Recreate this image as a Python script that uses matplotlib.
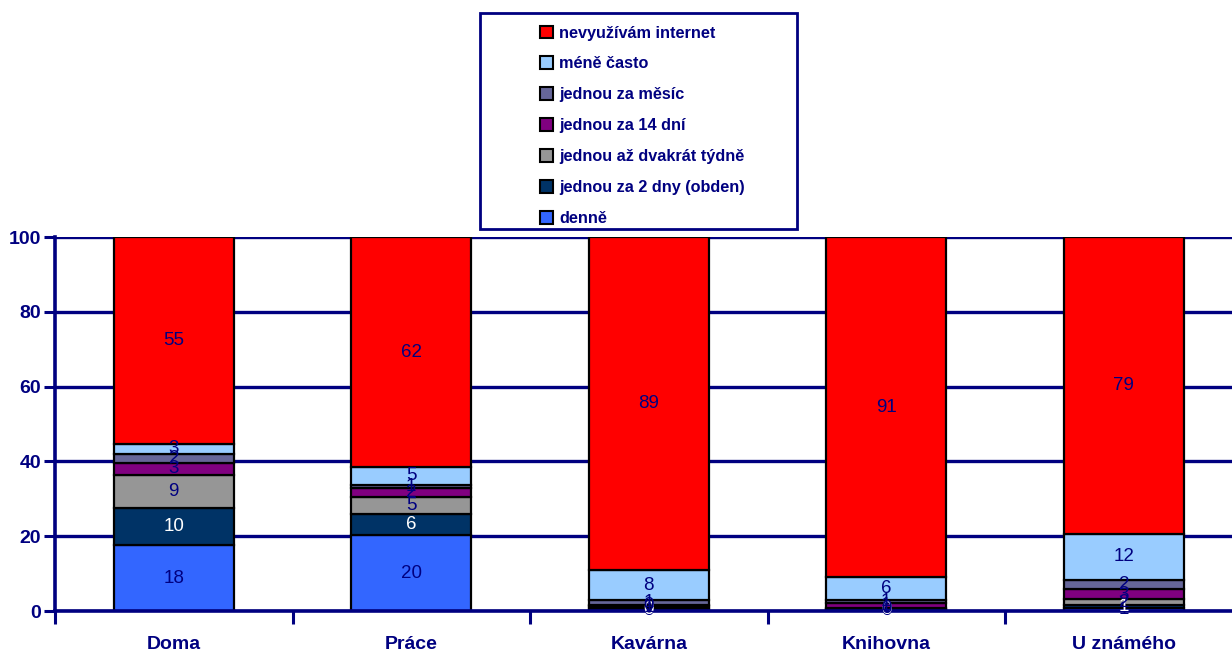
import matplotlib
matplotlib.use("Agg")
import matplotlib.pyplot as plt
from matplotlib.patches import Rectangle, Patch

# Stacked shares (%) of internet use frequency by place
places = ["Doma", "Práce", "Kavárna", "Knihovna", "U známého"]
series_names = [
    "denně",
    "jednou za 2 dny (obden)",
    "jednou až dvakrát týdně",
    "jednou za 14 dní",
    "jednou za měsíc",
    "méně často",
    "nevyužívám internet",
]
denne = [17.6, 20.3, 0.3, 0.2, 0.8]
obden = [9.9, 5.6, 0.4, 0.3, 0.7]
tydne = [8.8, 4.6, 0.6, 0.2, 1.6]
za14dni = [3.4, 2.4, 0.4, 1.4, 2.8]
za_mesic = [2.4, 0.9, 1.2, 0.8, 2.4]
mene_casto = [2.6, 4.6, 8.1, 6.1, 12.3]
nevyuzivam = [55.3, 61.6, 89.0, 91.0, 79.4]
y_ticks = [0, 20, 40, 60, 80, 100]

series = [denne, obden, tydne, za14dni, za_mesic, mene_casto, nevyuzivam]
colors = ["#3366FF", "#003366", "#969696", "#800080", "#666699", "#99CCFF", "#FF0000"]
label_colors = ["#000080", "white", "#000080", "#000080", "#000080", "#000080", "#000080"]

NAVY = "#000080"
FONT = ["Liberation Sans", "DejaVu Sans"]

W, H = 1232, 655
fig = plt.figure(figsize=(W / 100, H / 100), dpi=100)
ax = fig.add_axes([55 / W, (H - 611) / H, 1187.5 / W, (611 - 237) / H])

x = list(range(len(places)))
bottom = [0.0] * len(places)
containers = []
for vals, col in zip(series, colors):
    bc = ax.bar(x, vals, width=0.505, bottom=bottom, color=col,
                edgecolor="black", linewidth=1.6, zorder=3)
    containers.append(bc)
    bottom = [b + v for b, v in zip(bottom, vals)]

for bc, vals, lc in zip(containers, series, label_colors):
    ax.bar_label(bc, labels=[f"{v:.0f}" for v in vals], label_type="center",
                 color=lc, fontsize=13.5, family=FONT, zorder=5)

ax.set_xlim(-0.5, len(places) - 0.5)
ax.set_ylim(0, 100)
ax.set_yticks(y_ticks)
ax.set_yticklabels([str(t) for t in y_ticks], fontsize=14, fontweight="bold",
                   color=NAVY, family=FONT)
ax.set_xticks(x)
ax.set_xticklabels(places, fontsize=14, fontweight="bold", color=NAVY, family=FONT)
ax.set_xticks([i - 0.5 for i in range(len(places) + 1)], minor=True)
ax.tick_params(axis="x", which="major", length=0, pad=18)
ax.tick_params(axis="x", which="minor", length=9, width=2.2, color=NAVY, direction="out")
ax.tick_params(axis="y", length=8, width=2.2, color=NAVY, direction="out", pad=2)

ax.yaxis.grid(True, color=NAVY, linewidth=2.4, zorder=1)
ax.set_axisbelow(True)
for s in ["top", "right"]:
    ax.spines[s].set_visible(False)
for s in ["left", "bottom"]:
    ax.spines[s].set_color(NAVY)
    ax.spines[s].set_linewidth(2.6)
    ax.spines[s].set_zorder(4)

# Legend box
fig.patches.append(Rectangle((480 / W, 1 - 229 / H), 317 / W, 216 / H,
                             transform=fig.transFigure, facecolor="white",
                             edgecolor=NAVY, linewidth=2, zorder=0))
handles = [Patch(facecolor=c, edgecolor="black", linewidth=1.5)
           for c in colors][::-1]
leg = fig.legend(handles, series_names[::-1], loc="upper left",
                 bbox_to_anchor=(533 / W, 1 - 19 / H), frameon=False,
                 prop={"family": FONT, "weight": "bold", "size": 11.7},
                 handlelength=0.85, handleheight=0.85, handletextpad=0.35,
                 labelspacing=0.97, borderaxespad=0)
for t in leg.get_texts():
    t.set_color(NAVY)

fig.savefig("out.png", dpi=100, facecolor="white")
